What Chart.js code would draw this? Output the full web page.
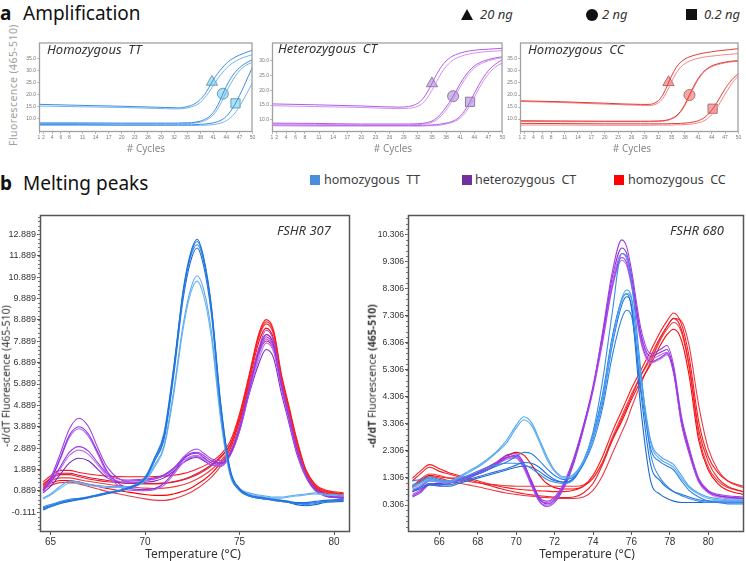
<!DOCTYPE html>
<html><head><meta charset="utf-8">
<script src="https://cdn.jsdelivr.net/npm/chart.js@4.4.0/dist/chart.umd.min.js"></script>
<style>
body{margin:0;width:746px;height:561px;position:relative;background:#fff;overflow:hidden;font-family:'Noto Sans',sans-serif;}
canvas{position:absolute;}
.t{position:absolute;white-space:pre;line-height:1;}
.ctr{transform:translate(-50%,-50%);}
.rot{transform:translate(-50%,-50%) rotate(-90deg);}
</style></head><body>

<div class="t" style="left:0;top:4px;font-size:19px;font-weight:bold;color:#111;">a</div>
<div class="t" style="left:23px;top:4px;font-size:19px;color:#111;">Amplification</div>
<div style="position:absolute;left:461px;top:9px;width:0;height:0;border-left:6px solid transparent;border-right:6px solid transparent;border-bottom:11px solid #111;"></div>
<div class="t" style="left:480px;top:8px;font-size:13px;font-style:italic;color:#333;">20 ng</div>
<div style="position:absolute;left:586px;top:9px;width:12px;height:12px;border-radius:50%;background:#111;"></div>
<div class="t" style="left:602px;top:8px;font-size:13px;font-style:italic;color:#333;">2 ng</div>
<div style="position:absolute;left:686px;top:9px;width:11px;height:11px;background:#111;"></div>
<div class="t" style="left:704px;top:8px;font-size:13px;font-style:italic;color:#333;">0.2 ng</div>

<div class="t" style="left:0;top:174px;font-size:19px;font-weight:bold;color:#111;">b</div>
<div class="t" style="left:23px;top:174px;font-size:19px;color:#111;">Melting peaks</div>
<div style="position:absolute;left:310px;top:175px;width:10px;height:10px;background:#4a8fdc;"></div>
<div class="t" style="left:324px;top:174px;font-size:12.5px;color:#404040;">homozygous  TT</div>
<div style="position:absolute;left:462px;top:175px;width:10px;height:10px;background:#7030a0;"></div>
<div class="t" style="left:475px;top:174px;font-size:12.5px;color:#404040;">heterozygous  CT</div>
<div style="position:absolute;left:614px;top:175px;width:10px;height:10px;background:#ff0000;"></div>
<div class="t" style="left:628px;top:174px;font-size:12.5px;color:#404040;">homozygous  CC</div>

<canvas id="a1" width="240" height="110" style="left:20px;top:35px;"></canvas>
<canvas id="a2" width="255" height="110" style="left:255px;top:35px;"></canvas>
<canvas id="a3" width="241" height="110" style="left:505px;top:35px;"></canvas>
<canvas id="b1" width="360" height="356" style="left:0px;top:205px;"></canvas>
<canvas id="b2" width="381" height="356" style="left:365px;top:205px;"></canvas>

<div class="t" style="left:47px;top:43px;font-size:13px;font-style:italic;color:#333;">Homozygous  TT</div>
<div class="t" style="left:278px;top:42px;font-size:13px;font-style:italic;color:#333;">Heterozygous  CT</div>
<div class="t" style="left:528px;top:43px;font-size:13px;font-style:italic;color:#333;">Homozygous  CC</div>
<div class="t ctr" style="left:146px;top:148px;font-size:10px;color:#888;"># Cycles</div>
<div class="t ctr" style="left:393px;top:148px;font-size:10px;color:#888;"># Cycles</div>
<div class="t ctr" style="left:632px;top:148px;font-size:10px;color:#888;"># Cycles</div>
<div class="t rot" style="left:13px;top:85px;font-size:10.5px;color:#a0a0a0;letter-spacing:0.4px;">Fluorescence (465-510)</div>

<div class="t" style="left:277px;top:224px;font-size:13px;font-style:italic;color:#333;">FSHR 307</div>
<div class="t" style="left:670px;top:224px;font-size:13px;font-style:italic;color:#333;">FSHR 680</div>
<div class="t ctr" style="left:193px;top:554px;font-size:12px;color:#333;">Temperature (°C)</div>
<div class="t ctr" style="left:587px;top:554px;font-size:12px;color:#333;">Temperature (°C)</div>
<div class="t rot" style="left:6px;top:376px;font-size:10.5px;color:#333;">-d/dT Fluorescence (465-510)</div>
<div class="t rot" style="left:372px;top:376px;font-size:10.5px;color:#333;"><b>-d/dT</b> Fluorescence <b>(465-510)</b></div>

<script>
// ---------- Panel a: amplification curves ----------
const ampCycles = [1, 10, 20, 28, 30, 32, 33, 34, 35, 36, 37, 38, 39, 40, 41, 42, 43, 44, 45, 46, 47, 48, 49, 50];
const ampXTicks = [1, 2, 4, 6, 8, 11, 14, 17, 20, 23, 26, 29, 32, 35, 38, 41, 44, 47, 50];

const ttCurves20 = [
  [16.0,15.6,15.2,14.8,14.7,14.6,14.5,14.7,15.0,15.6,16.5,18.0,20.0,23.0,26.2,28.8,31.0,33.0,34.5,35.6,36.5,37.2,37.9,38.5],
  [15.3,15.0,14.7,14.3,14.2,14.1,14.1,14.2,14.5,14.9,15.6,16.8,18.6,21.0,23.8,26.6,29.0,31.0,32.6,33.8,34.8,35.5,36.1,36.6]];
const ttCurves2 = [
  [8.3,8.3,8.2,8.2,8.2,8.2,8.2,8.3,8.3,8.4,8.6,9.0,9.7,10.8,12.6,15.5,19.5,23.5,26.8,29.3,31.2,32.6,33.7,34.5],
  [8.0,8.0,7.9,7.9,7.9,7.9,7.9,8.0,8.0,8.1,8.3,8.6,9.2,10.1,11.6,14.0,17.4,21.2,24.6,27.6,29.9,31.6,32.7,33.5]];
const ttCurves02 = [
  [7.6,7.6,7.5,7.5,7.5,7.5,7.5,7.5,7.5,7.5,7.6,7.7,7.8,8.0,8.3,8.8,9.6,11.0,13.2,16.1,19.6,23.4,27.5,31.5],
  [7.3,7.3,7.2,7.2,7.2,7.2,7.2,7.2,7.2,7.2,7.2,7.3,7.3,7.4,7.6,7.9,8.4,9.2,10.5,12.4,15.0,18.2,21.6,25.0]];
const ctCurves20 = [
  [15.4,15.1,14.7,14.3,14.5,15.6,17.0,19.3,22.3,25.4,28.0,29.9,31.2,32.0,32.6,33.0,33.3,33.5,33.7,33.8,33.9,34.0,34.1,34.2],
  [14.8,14.5,14.2,13.8,13.9,14.6,15.6,17.4,20.0,23.0,25.8,28.0,29.6,30.7,31.4,31.9,32.3,32.6,32.8,33.0,33.1,33.2,33.3,33.4]];
const ctCurves2 = [
  [8.9,8.8,8.6,8.6,8.6,8.7,8.8,9.1,9.6,10.6,12.2,14.3,16.6,19.4,22.2,24.7,26.7,28.2,29.2,29.9,30.4,30.8,31.1,31.3],
  [8.6,8.5,8.3,8.3,8.3,8.4,8.5,8.7,9.2,10.0,11.4,13.3,15.6,18.3,21.1,23.7,25.9,27.5,28.6,29.4,30.0,30.4,30.8,31.0]];
const ctCurves02 = [
  [8.3,8.2,8.1,8.1,8.1,8.1,8.2,8.2,8.3,8.4,8.6,8.9,9.3,10.0,11.2,13.2,15.8,18.9,21.9,24.5,26.6,28.2,29.4,30.3],
  [8.0,7.9,7.9,7.9,7.9,7.9,7.9,8.0,8.0,8.1,8.3,8.6,9.0,9.6,10.6,12.3,14.6,17.5,20.6,23.3,25.5,27.2,28.4,29.3]];
const ccCurves20 = [
  [17.6,17.2,16.6,16.1,16.1,17.6,20.0,23.8,28.0,31.4,33.6,35.0,35.9,36.5,37.0,37.4,37.7,38.0,38.3,38.5,38.7,38.9,39.1,39.3],
  [17.3,16.9,16.2,15.7,15.6,16.7,18.5,21.6,25.5,29.0,31.5,33.1,34.1,34.8,35.3,35.7,36.0,36.2,36.4,36.6,36.8,36.9,37.1,37.2]];
const ccCurves2 = [
  [9.3,9.2,9.1,9.1,9.1,9.2,9.3,9.6,10.2,11.3,13.2,16.2,20.0,23.8,27.0,29.4,31.0,32.1,32.8,33.3,33.7,34.0,34.2,34.3],
  [9.0,8.9,8.9,8.9,8.9,9.0,9.1,9.4,10.0,11.0,12.8,15.7,19.4,23.2,26.5,29.0,30.7,31.8,32.5,33.0,33.4,33.7,33.9,34.0]];
const ccCurves02 = [
  [8.2,8.1,8.0,8.0,8.0,8.0,8.0,8.0,8.1,8.1,8.2,8.3,8.5,8.8,9.3,10.2,11.6,13.7,16.4,19.5,22.6,25.2,27.3,28.9],
  [7.5,7.5,7.4,7.4,7.4,7.5,7.5,7.5,7.5,7.6,7.6,7.7,7.8,8.0,8.4,9.0,10.1,11.8,14.2,17.2,20.4,23.4,26.0,28.0]];

const markerCyclesTT = [40.7, 43.2, 46.1];
const markerValuesTT = [25.3, 20.4, 16.4];
const markerCyclesCT = [35.0, 39.5, 43.1];
const markerValuesCT = [22.3, 18.0, 16.1];
const markerCyclesCC = [34.3, 39.0, 44.2];
const markerValuesCC = [25.3, 20.0, 14.3];
const markerStyles = ['triangle', 'circle', 'rect'];

const ampYTicksTT = [10, 15, 20, 25, 30, 35];
const ampYTicksCT = [10, 15, 20, 25, 30];
const ampYTicksCC = [10, 15, 20, 25, 30, 35];

// ---------- Panel b: melting peaks ----------
const b1Temps = [64.6, 65.0, 65.5, 66.0, 66.5, 67.0, 67.5, 68.0, 69.0, 70.0, 70.5, 71.0, 71.5, 72.0, 72.4, 72.75, 73.1, 73.5, 74.0, 74.5, 75.0, 75.5, 76.0, 76.4, 76.8, 77.2, 77.6, 78.0, 78.5, 79.0, 79.5, 80.5];
const b1XTicks = [65, 70, 75, 80];
const b1YTicks = [-0.111, 0.889, 1.889, 2.889, 3.889, 4.889, 5.889, 6.889, 7.889, 8.889, 9.889, 10.889, 11.889, 12.889];

const b1TT = [
  [0.10,0.20,0.35,0.45,0.52,0.60,0.70,0.80,1.00,1.50,2.40,3.50,6.50,10.20,12.00,12.65,11.80,9.60,5.00,1.90,1.00,0.70,0.60,0.55,0.50,0.45,0.40,0.35,0.35,0.40,0.45,0.50],
  [0.05,0.15,0.30,0.42,0.50,0.58,0.68,0.78,0.98,1.45,2.30,3.40,6.40,10.10,11.90,12.55,11.70,9.50,4.90,1.85,0.95,0.65,0.55,0.50,0.45,0.40,0.35,0.30,0.30,0.35,0.40,0.45],
  [0.15,0.25,0.40,0.50,0.55,0.62,0.72,0.82,1.02,1.55,2.45,3.60,6.60,10.00,11.80,12.40,11.60,9.40,4.80,1.80,0.95,0.70,0.60,0.55,0.50,0.45,0.40,0.30,0.25,0.30,0.40,0.45],
  [0.00,0.15,0.30,0.40,0.48,0.56,0.66,0.76,0.96,1.45,2.30,3.30,6.20,9.80,11.60,12.25,11.40,9.20,4.70,1.75,0.90,0.65,0.55,0.50,0.45,0.40,0.35,0.25,0.20,0.25,0.35,0.40],
  [0.55,0.75,1.10,1.35,1.30,1.20,1.15,1.10,1.10,1.40,2.10,3.00,5.50,8.60,10.30,10.95,10.30,8.40,4.40,1.70,1.00,0.80,0.70,0.65,0.60,0.60,0.65,0.70,0.75,0.80,0.75,0.70],
  [0.50,0.70,1.00,1.25,1.25,1.15,1.10,1.05,1.05,1.35,2.00,2.90,5.30,8.40,10.10,10.70,10.00,8.10,4.20,1.60,0.95,0.75,0.65,0.60,0.55,0.55,0.60,0.65,0.70,0.75,0.70,0.65]];
const b1CT = [
  [0.95,1.50,2.60,3.80,4.29,3.90,2.90,2.00,1.35,1.40,1.45,1.60,1.90,2.45,2.75,2.85,2.65,2.40,2.30,2.70,3.90,5.70,7.50,8.40,7.90,6.00,4.50,3.00,1.70,1.00,0.75,0.60],
  [0.90,1.40,2.40,3.50,3.89,3.55,2.70,1.80,1.05,0.95,1.00,1.25,1.75,2.35,2.60,2.65,2.45,2.20,2.15,2.60,3.80,5.60,7.40,8.20,7.70,5.90,4.40,2.90,1.65,0.95,0.70,0.55],
  [0.85,1.35,2.35,3.40,3.80,3.45,2.60,1.70,0.95,0.90,0.95,1.15,1.65,2.20,2.45,2.50,2.35,2.10,2.05,2.55,3.70,5.50,7.20,8.00,7.50,5.80,4.30,2.85,1.60,0.95,0.70,0.55],
  [0.95,1.30,2.00,2.70,2.96,2.75,2.20,1.70,1.40,1.45,1.50,1.65,1.95,2.40,2.65,2.70,2.55,2.30,2.20,2.65,3.85,5.60,7.30,8.10,7.60,5.85,4.35,2.90,1.65,0.95,0.70,0.60],
  [0.90,1.25,1.90,2.55,2.80,2.60,2.10,1.60,1.30,1.35,1.45,1.60,1.90,2.30,2.50,2.55,2.40,2.20,2.10,2.60,3.75,5.50,7.00,7.80,7.40,5.70,4.25,2.80,1.60,0.95,0.70,0.55],
  [0.80,1.10,1.65,2.20,2.42,2.30,1.90,1.50,1.25,1.30,1.35,1.50,1.80,2.20,2.40,2.45,2.30,2.10,2.05,2.55,3.70,5.40,6.80,7.50,7.10,5.50,4.10,2.70,1.55,0.90,0.65,0.55]];
const b1CC = [
  [1.30,1.60,1.85,1.85,1.75,1.68,1.62,1.58,1.55,1.55,1.56,1.58,1.62,1.70,1.80,1.92,2.05,2.25,2.60,3.20,4.50,6.30,8.20,8.90,8.40,6.40,4.90,3.40,1.90,1.20,0.95,0.80],
  [1.15,1.45,1.65,1.65,1.55,1.45,1.38,1.32,1.25,1.22,1.22,1.25,1.30,1.40,1.52,1.65,1.82,2.05,2.45,3.05,4.40,6.20,8.10,8.80,8.30,6.30,4.80,3.30,1.85,1.15,0.90,0.75],
  [1.10,1.35,1.50,1.50,1.42,1.34,1.27,1.20,1.10,1.02,1.00,1.02,1.08,1.18,1.30,1.45,1.62,1.88,2.30,2.95,4.30,6.10,8.00,8.70,8.20,6.20,4.70,3.20,1.80,1.10,0.85,0.70],
  [1.05,1.25,1.38,1.38,1.30,1.20,1.10,1.00,0.85,0.72,0.68,0.68,0.75,0.88,1.02,1.20,1.40,1.70,2.20,2.85,4.20,6.00,7.80,8.50,8.00,6.10,4.60,3.10,1.75,1.05,0.80,0.65],
  [0.95,1.15,1.28,1.30,1.22,1.10,0.98,0.86,0.68,0.52,0.46,0.45,0.52,0.66,0.82,1.00,1.22,1.52,2.05,2.70,4.00,5.80,7.50,8.20,7.80,6.00,4.50,3.00,1.70,1.00,0.75,0.60],
  [1.20,1.50,1.72,1.72,1.62,1.52,1.45,1.38,1.30,1.25,1.24,1.26,1.32,1.42,1.55,1.70,1.88,2.10,2.50,3.05,4.20,5.80,7.30,7.90,7.50,5.80,4.40,3.00,1.70,1.05,0.85,0.75]];

const b2Temps = [64.6, 65.0, 65.5, 66.0, 66.5, 67.0, 67.5, 68.0, 68.5, 69.0, 69.5, 70.0, 70.4, 70.8, 71.2, 71.6, 72.0, 72.5, 73.0, 73.5, 74.0, 74.5, 75.0, 75.5, 75.75, 76.0, 76.5, 77.0, 77.5, 77.85, 78.2, 78.6, 79.0, 79.5, 80.0, 80.5, 81.0, 81.8];
const b2XTicks = [66, 68, 70, 72, 74, 76, 78, 80];
const b2YTicks = [0.306, 1.306, 2.306, 3.306, 4.306, 5.306, 6.306, 7.306, 8.306, 9.306, 10.306];

const b2TT = [
  [1.00,1.10,1.25,1.20,1.20,1.35,1.55,1.75,2.00,2.30,2.70,3.25,3.57,3.35,2.75,2.10,1.60,1.35,1.45,1.95,2.85,4.30,6.40,7.95,8.25,8.00,5.00,2.70,2.10,1.95,1.80,1.40,1.00,0.75,0.60,0.55,0.50,0.50],
  [0.95,1.05,1.20,1.15,1.15,1.30,1.50,1.70,1.95,2.25,2.60,3.15,3.45,3.25,2.65,2.00,1.55,1.30,1.40,1.90,2.80,4.20,6.30,7.85,8.13,7.90,4.90,2.60,2.00,1.85,1.70,1.30,0.95,0.70,0.55,0.50,0.45,0.45],
  [1.20,1.25,1.35,1.25,1.20,1.25,1.35,1.45,1.60,1.75,1.90,2.10,2.25,2.20,1.95,1.65,1.40,1.25,1.35,1.80,2.60,3.90,5.80,7.20,7.50,7.30,4.60,2.40,1.90,1.75,1.60,1.20,0.85,0.60,0.45,0.40,0.35,0.35],
  [0.85,0.95,1.10,1.05,1.05,1.15,1.25,1.35,1.45,1.55,1.65,1.78,1.88,1.85,1.70,1.45,1.25,1.15,1.30,1.85,2.75,4.10,6.20,7.70,8.00,7.70,4.40,1.80,1.20,0.95,0.80,0.70,0.60,0.50,0.45,0.45,0.45,0.45],
  [1.05,1.15,1.30,1.20,1.15,1.25,1.40,1.55,1.70,1.80,1.85,1.85,1.80,1.65,1.45,1.25,1.15,1.10,1.25,1.90,3.00,4.90,7.40,9.60,9.50,8.60,5.20,2.20,1.30,1.00,0.80,0.65,0.55,0.45,0.40,0.40,0.40,0.40],
  [0.80,0.90,1.05,1.00,1.00,1.10,1.20,1.30,1.40,1.50,1.60,1.70,1.75,1.70,1.55,1.35,1.20,1.15,1.30,1.90,2.90,4.40,6.50,7.90,8.10,7.60,3.80,1.20,0.70,0.55,0.45,0.40,0.40,0.40,0.40,0.40,0.40,0.40]];
const b2CT = [
  [0.60,0.75,1.05,1.05,1.10,1.20,1.30,1.45,1.60,1.80,2.05,2.15,1.75,1.05,0.45,0.25,0.40,0.95,1.85,3.10,4.60,6.70,8.90,10.10,9.85,9.00,6.80,5.90,6.05,6.20,5.45,3.60,2.45,1.30,0.85,0.70,0.65,0.60],
  [0.65,0.80,1.10,1.10,1.15,1.25,1.35,1.50,1.70,1.90,2.15,2.20,1.85,1.15,0.55,0.35,0.50,1.05,1.95,3.20,4.70,6.60,8.70,9.80,9.60,8.80,6.60,5.80,5.95,6.05,5.30,3.50,2.35,1.25,0.80,0.65,0.60,0.55],
  [0.70,0.85,1.10,1.05,1.10,1.20,1.30,1.45,1.60,1.80,2.00,2.05,1.70,1.10,0.50,0.40,0.55,1.10,2.00,3.20,4.60,6.50,8.50,9.60,9.40,8.60,6.50,5.70,5.85,5.95,5.25,3.40,2.30,1.20,0.80,0.65,0.60,0.55],
  [0.80,0.95,1.20,1.15,1.15,1.25,1.35,1.50,1.65,1.85,2.05,2.10,1.80,1.20,0.60,0.45,0.60,1.15,2.05,3.25,4.60,6.40,8.40,9.45,9.25,8.50,6.40,5.60,5.75,5.90,5.20,3.35,2.25,1.20,0.80,0.65,0.60,0.55],
  [0.90,1.00,1.25,1.20,1.20,1.30,1.40,1.55,1.70,1.90,2.10,2.05,1.65,1.00,0.45,0.30,0.45,1.00,1.90,3.10,4.50,6.30,8.30,9.35,9.15,8.40,6.30,5.55,5.70,5.85,5.15,3.30,2.20,1.15,0.75,0.60,0.55,0.55]];
const b2CC = [
  [1.30,1.55,1.80,1.65,1.50,1.40,1.30,1.20,1.10,1.02,0.95,0.90,0.87,0.85,0.83,0.82,0.80,0.80,0.85,1.00,1.40,2.10,3.00,3.80,4.20,4.60,5.30,6.00,6.70,7.10,7.40,7.00,5.80,3.40,2.10,1.50,1.20,1.00],
  [1.20,1.45,1.70,1.55,1.45,1.35,1.25,1.15,1.05,0.95,0.85,0.78,0.72,0.68,0.65,0.62,0.60,0.58,0.60,0.75,1.10,1.80,2.70,3.50,3.90,4.30,5.10,5.80,6.50,6.90,7.20,6.80,5.50,3.10,1.90,1.30,1.00,0.80],
  [1.00,1.25,1.45,1.40,1.30,1.22,1.18,1.12,1.08,1.05,1.02,1.00,1.00,1.00,1.00,1.00,1.00,1.00,1.00,1.05,1.30,1.90,2.80,3.60,4.00,4.40,5.10,5.70,6.40,6.80,7.05,6.70,5.40,2.90,1.70,1.20,0.95,0.80],
  [1.00,1.20,1.40,1.35,1.30,1.30,1.35,1.45,1.60,1.85,2.10,2.25,2.15,1.80,1.40,1.10,0.95,0.90,0.90,1.00,1.30,1.90,2.70,3.40,3.80,4.20,4.90,5.50,6.20,6.60,6.80,6.40,5.10,2.70,1.60,1.10,0.85,0.70],
  [0.95,1.15,1.35,1.30,1.20,1.12,1.05,0.98,0.90,0.82,0.75,0.70,0.66,0.63,0.60,0.58,0.56,0.55,0.55,0.60,0.85,1.40,2.20,3.00,3.40,3.90,4.80,5.60,6.40,6.90,7.20,7.10,6.20,4.00,2.40,1.60,1.20,0.95]];

// ---------- helpers ----------
function hasFont(name) {
  const c = document.createElement('canvas').getContext('2d');
  c.font = '20px monospace';
  const w0 = c.measureText('12.889 Temperature').width;
  c.font = "20px '" + name + "', monospace";
  return Math.abs(c.measureText('12.889 Temperature').width - w0) > 0.5;
}
const NARROW_OK = hasFont('Liberation Sans Narrow');
const TICK_FAMILY = NARROW_OK ? "'Liberation Sans Narrow'" : "'Liberation Sans', Arial, sans-serif";
const B1_TICK_SIZE = NARROW_OK ? 10.5 : 9;
const B2_TICK_SIZE = NARROW_OK ? 10 : 8.6;
const X_TICK_SIZE = NARROW_OK ? 11 : 10;

const pts = (xs, ys) => xs.map((x, i) => ({x: x, y: ys[i]}));

function boxPlugin(color, width) {
  return { id: 'box', afterDraw(chart) {
    const a = chart.chartArea, ctx = chart.ctx;
    ctx.save(); ctx.strokeStyle = color; ctx.lineWidth = width;
    ctx.strokeRect(a.left + 0.5, a.top + 0.5, a.right - a.left - 1, a.bottom - a.top - 1);
    ctx.restore();
  }};
}
const minorTicks = { id: 'minor', afterDraw(chart) {
  const y = chart.scales.y, ctx = chart.ctx, vals = y.ticks.map(t => t.value);
  if (vals.length < 2) return;
  const step = vals[1] - vals[0];
  ctx.save(); ctx.strokeStyle = '#777'; ctx.lineWidth = 1;
  for (let v = vals[0] - step; v <= vals[vals.length - 1] + step + 1e-9; v += step / 5) {
    if (v < y.min || v > y.max) continue;
    const p = Math.round(y.getPixelForValue(v)) + 0.5;
    ctx.beginPath(); ctx.moveTo(chart.chartArea.left - 2, p); ctx.lineTo(chart.chartArea.left, p); ctx.stroke();
  }
  ctx.restore();
}};

function lineDs(xs, ys, color, w) {
  return { type: 'line', data: pts(xs, ys), borderColor: color, borderWidth: w, pointRadius: 0,
           fill: false, cubicInterpolationMode: 'monotone' };
}

function ampChart(id, groups, colors, mCycles, mValues, mFill, mStroke, yMin, yMax, yTicks, yWidth) {
  const ds = [];
  groups.forEach(g => g.forEach((c, i) => ds.push(lineDs(ampCycles, c, colors[i % colors.length], 1))));
  mCycles.forEach((c, i) => ds.push({ type: 'scatter', data: [{x: c, y: mValues[i]}], pointStyle: markerStyles[i],
    pointRadius: i === 1 ? 5.5 : 6.5, backgroundColor: mFill, borderColor: mStroke, borderWidth: 1 }));
  new Chart(document.getElementById(id), {
    type: 'line', data: { datasets: ds },
    options: {
      responsive: false, animation: false, events: [],
      layout: { padding: { top: 5, right: 5, left: 0, bottom: 0 } },
      plugins: { legend: { display: false }, tooltip: { enabled: false } },
      scales: {
        x: { type: 'linear', min: 1, max: 50,
             afterBuildTicks: s => { s.ticks = ampXTicks.map(v => ({value: v})); },
             afterFit: s => { s.height = 13; s.paddingLeft = 0; s.paddingRight = 0; },
             ticks: { font: { size: 5, family: TICK_FAMILY }, color: '#777', padding: 1, maxRotation: 0, autoSkip: false },
             grid: { drawOnChartArea: false, tickLength: 2, color: '#bbb' }, border: { display: false } },
        y: { type: 'linear', min: yMin, max: yMax,
             afterBuildTicks: s => { s.ticks = yTicks.map(v => ({value: v})); },
             afterFit: s => { s.width = yWidth; s.paddingTop = 0; s.paddingBottom = 0; },
             ticks: { font: { size: 5, family: TICK_FAMILY }, color: '#777', padding: 1, callback: v => v.toFixed(1) },
             grid: { drawOnChartArea: false, tickLength: 2, color: '#bbb' }, border: { display: false } }
      }
    },
    plugins: [boxPlugin('#a0a0a0', 1.3)]
  });
}

ampChart('a1', [ttCurves20, ttCurves2, ttCurves02], ['#3d8ee0', '#74b4ef'], markerCyclesTT, markerValuesTT,
         '#a9e2f2', '#6d9fb0', 4.5, 41.7, ampYTicksTT, 19);
ampChart('a2', [ctCurves20, ctCurves2, ctCurves02], ['#b25ce2', '#cf92f2'], markerCyclesCT, markerValuesCT,
         '#cbbbe2', '#8c7aa6', 5.9, 36.15, ampYTicksCT, 17);
ampChart('a3', [ccCurves20, ccCurves2, ccCurves02], ['#e23a36', '#f28686'], markerCyclesCC, markerValuesCC,
         '#f5a6a6', '#b07070', 4.6, 41.86, ampYTicksCC, 15);

const b1BlueCols = ['#1f72dc', '#2a80e6', '#3a8de8', '#1c68d0', '#5aa9f0', '#6db6f4'];
const b2BlueCols = ['#4da3f0', '#5aabf2', '#2a80e6', '#1f72dc', '#3a8de8', '#1c68d0'];
const purpleCols = ['#a040e6', '#8e2ed8', '#b45cf0', '#9a36e0', '#c070f2', '#7c24c8'];
const redCols = ['#ff1a1a', '#e8202a', '#f03c3c', '#ff0000', '#e83a4a', '#d0104a'];

function meltChart(id, temps, groups, blueCols, xMin, xMax, xTicks, yMin, yMax, yTicks, yWidth, padRight, ySize) {
  const ds = [];
  const cols = [blueCols, purpleCols, redCols];
  groups.forEach((g, gi) => g.forEach((c, i) => ds.push(lineDs(temps, c, cols[gi][i % cols[gi].length], 1.1))));
  new Chart(document.getElementById(id), {
    type: 'line', data: { datasets: ds },
    options: {
      responsive: false, animation: false, events: [],
      layout: { padding: { top: 10, right: padRight, left: 0, bottom: 0 } },
      plugins: { legend: { display: false }, tooltip: { enabled: false } },
      scales: {
        x: { type: 'linear', min: xMin, max: xMax,
             afterBuildTicks: s => { s.ticks = xTicks.map(v => ({value: v})); },
             afterFit: s => { s.height = 29; s.paddingLeft = 0; s.paddingRight = 0; },
             ticks: { font: { size: X_TICK_SIZE, family: TICK_FAMILY }, color: '#333', padding: 1, maxRotation: 0, autoSkip: false },
             grid: { drawOnChartArea: false, tickLength: 3, color: '#555' }, border: { display: false } },
        y: { type: 'linear', min: yMin, max: yMax,
             afterBuildTicks: s => { s.ticks = yTicks.map(v => ({value: v})); },
             afterFit: s => { s.width = yWidth; s.paddingTop = 0; s.paddingBottom = 0; },
             ticks: { font: { size: ySize, family: TICK_FAMILY }, color: '#333', padding: 1, callback: v => v.toFixed(3) },
             grid: { drawOnChartArea: false, tickLength: 3, color: '#555' }, border: { display: false } }
      }
    },
    plugins: [boxPlugin('#555', 1.5), minorTicks]
  });
}

meltChart('b1', b1Temps, [b1TT, b1CT, b1CC], b1BlueCols, 64.44, 80.84, b1XTicks, -1.03, 13.79, b1YTicks, 40, 10, B1_TICK_SIZE);
meltChart('b2', b2Temps, [b2TT, b2CT, b2CC], b2BlueCols, 64.37, 81.86, b2XTicks, -0.69, 11.02, b2YTicks, 43, 2, B2_TICK_SIZE);
</script>
</body></html>
